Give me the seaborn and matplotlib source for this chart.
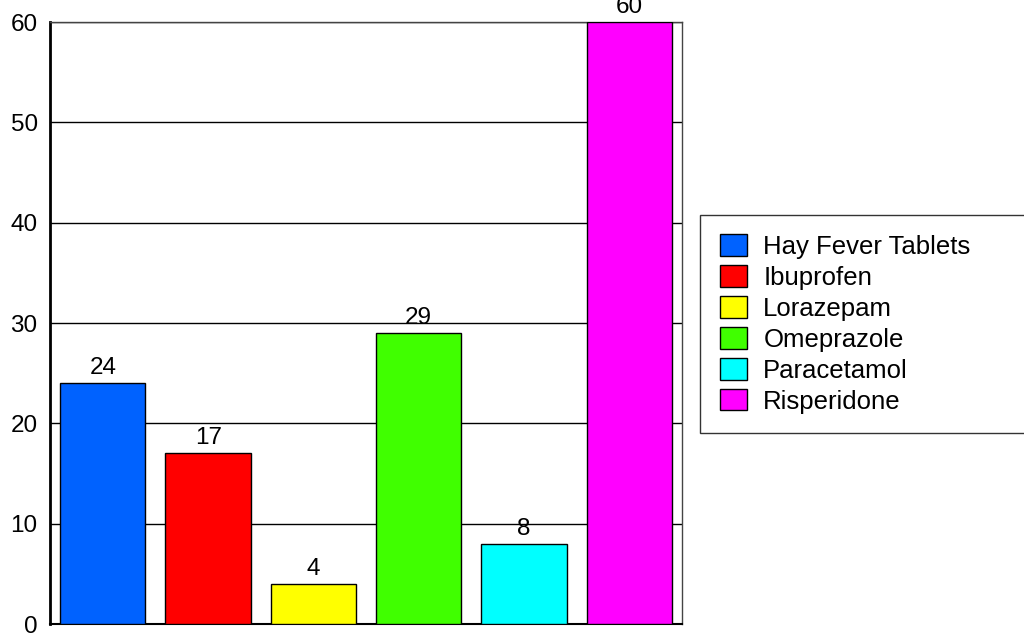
import seaborn as sns
import pandas as pd
import matplotlib.pyplot as plt

# chart data
drugs = ["Hay Fever Tablets", "Ibuprofen", "Lorazepam", "Omeprazole", "Paracetamol", "Risperidone"]
counts = [24, 17, 4, 29, 8, 60]
colours = ["#0062ff", "#ff0000", "#ffff00", "#40ff00", "#00ffff", "#ff00ff"]

df = pd.DataFrame({"drug": drugs, "count": counts})

sns.set_style("white")
plt.rcParams['font.family'] = ['Liberation Sans', 'DejaVu Sans']
plt.rcParams['text.color'] = 'black'
plt.rcParams['ytick.color'] = 'black'

fig = plt.figure(figsize=(10.24, 6.41), dpi=100)
ax = fig.add_axes([0.049, 0.0265, 0.617, 0.939])

sns.barplot(data=df, x="drug", y="count", hue="drug", palette=colours,
            saturation=1, dodge=False, width=0.81, edgecolor="black",
            linewidth=1, legend=False, ax=ax, zorder=3)

# value labels above bars
for c in ax.containers:
    ax.bar_label(c, fontsize=17.5, padding=3, color="black")

ax.set_ylim(0, 60)
ax.set_xlim(-0.5, len(drugs) - 0.5)
ax.set_yticks(range(0, 61, 10))
ax.set_xticks([])
ax.set_xlabel("")
ax.set_ylabel("")
ax.tick_params(axis="y", labelsize=17.5, pad=9, length=0, labelcolor="black")
ax.yaxis.grid(True, color="black", linewidth=1, zorder=0)
ax.set_axisbelow(True)

for s in ["top", "right"]:
    ax.spines[s].set_color("#444444")
    ax.spines[s].set_linewidth(1)
ax.spines["bottom"].set_color("black")
ax.spines["bottom"].set_linewidth(1.5)
ax.spines["left"].set_color("black")
ax.spines["left"].set_linewidth(2)

# legend built from the bar colours
handles = [plt.Rectangle((0, 0), 1, 1, facecolor=col, edgecolor="black") for col in colours]
leg = fig.legend(handles, drugs, loc="center left",
                 bbox_to_anchor=(0.684, 0.332, 0.35, 0.325), mode="expand",
                 borderaxespad=0, fontsize=18.5, frameon=True, fancybox=False,
                 borderpad=0.75, handlelength=1.05, handleheight=0.9,
                 handletextpad=0.65, labelspacing=0.25)
leg.get_frame().set_edgecolor("black")
leg.get_frame().set_linewidth(1)

fig.savefig("out.png", dpi=100)
